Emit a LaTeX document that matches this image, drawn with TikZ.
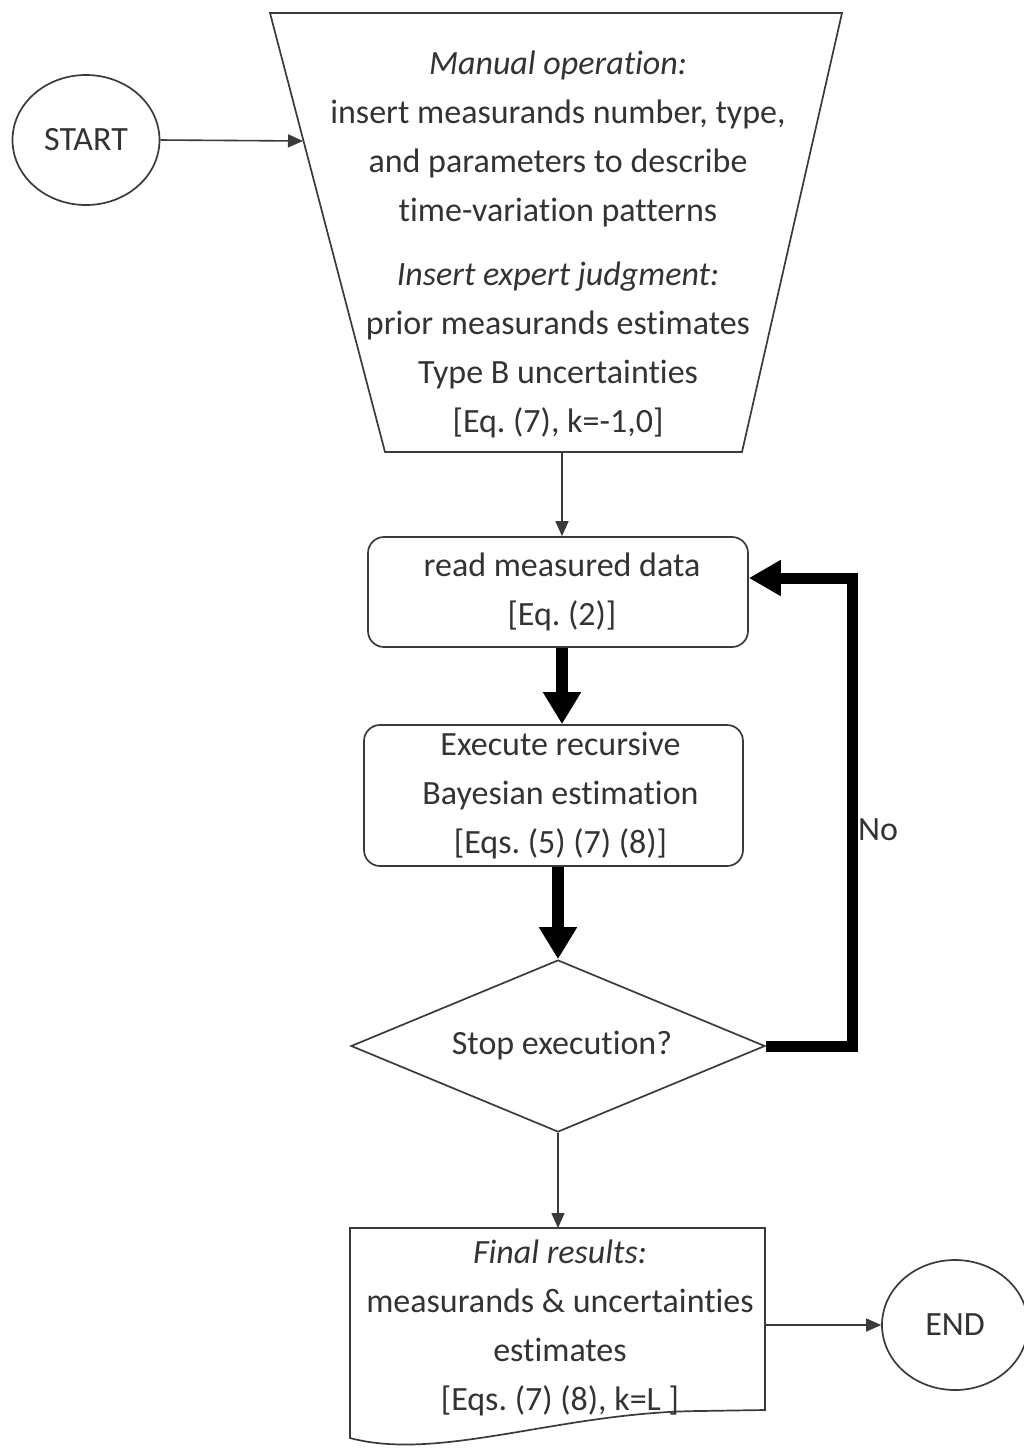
\documentclass[tikz,border=0pt]{standalone}
\usepackage{fontspec}
\setmainfont{Carlito}[Ligatures={NoCommon}]
\frenchspacing
\usetikzlibrary{arrows.meta,shapes.geometric,calc}
\definecolor{txt}{HTML}{333333}
\definecolor{ln}{HTML}{3A3A3A}
\begin{document}
\begin{tikzpicture}[x=1pt,y=-1pt,
  every node/.style={font=\fontsize{34}{49}\selectfont, text=txt, align=center},
  outl/.style={draw=ln, line width=1.7pt},
  term/.style={outl, ellipse, minimum width=147pt, minimum height=130pt, inner sep=0pt},
  procbox/.style={outl, rectangle, rounded corners=16pt, inner sep=0pt},
  decis/.style={outl, diamond, aspect=2.4, inner sep=0pt, minimum width=414pt, minimum height=172pt},
  thinarr/.style={draw=ln, line width=1.6pt, -{Triangle[length=15pt,width=13pt]}},
  thickarr/.style={draw=black, line width=12pt, -{Triangle[length=32pt,width=36pt]}},
  loopline/.style={draw=black, line width=11pt, line join=miter, -{Triangle[length=32pt,width=34pt]}}
]
\useasboundingbox (0,0) rectangle (1024,1452);

% START
\node[term] (start) at (86,140) {START};

% manual operation trapezoid
\coordinate (tl) at (270,13);
\coordinate (tr) at (842,13);
\coordinate (br) at (742,452);
\coordinate (bl) at (385,452);
\draw[outl] (tl) -- (tr) -- (br) -- (bl) -- cycle;
\coordinate (manin) at (303,141);
\coordinate (manout) at (562,452);
\node (man) at (558,244) {\textit{Manual operation:}\\
  insert measurands number, type,\\
  and parameters to describe\\
  time-variation patterns\\[15pt]
  \textit{Insert expert judgment:}\\
  prior measurands estimates\\
  Type B uncertainties\\
  {[Eq. (7), k=-1,0]}};

% read data
\node[procbox, minimum width=380pt, minimum height=110pt] (read) at (558,592)
  {\hspace*{8pt}read measured data\\ \hspace*{8pt}{[Eq. (2)]}};

% execute
\node[procbox, minimum width=379pt, minimum height=141pt] (exec) at (553.5,795.5)
  {\hspace*{14pt}Execute recursive\\ \hspace*{14pt}Bayesian estimation\\ \hspace*{14pt}{[Eqs. (5) (7) (8)]}};

% decision
\node[decis] (stop) at (558,1046) {};
\node at (562,1046) {Stop execution?};

% final results document
\coordinate (dtl) at (350,1228);
\coordinate (dtr) at (765,1228);
\coordinate (dbr) at (765,1410);
\coordinate (dbl) at (350,1438);
\draw[outl] (dtl) -- (dtr) -- (dbr) -- (700,1411)
  .. controls (560,1412) and (440,1462) .. (dbl) -- cycle;
\coordinate (doctop) at (558,1228);
\coordinate (docright) at (765,1325);
\node (doc) at (560,1328) {\textit{Final results:}\\
  measurands \& uncertainties\\
  estimates\\
  {[Eqs. (7) (8), k=L ]}};

% END
\node[term, minimum width=146pt] (end) at (955,1325) {END};

% connectors
\draw[thinarr] (start.east) -- (manin);
\draw[thinarr] (manout) -- (manout |- read.north);
\draw[thickarr] (read.south -| 562,0) -- (exec.north -| 562,0);
\draw[thickarr] (stop.north |- exec.south) -- (stop.north);
\draw[loopline] (stop.east) -- (852,1046) -- (852,578) -- ($(read.east)+(0,-14)$);
\node at (878,830) {No};
\draw[thinarr] (stop.south) -- (stop.south |- doctop);
\draw[thinarr] (docright) -- (end.west);
\end{tikzpicture}
\end{document}
